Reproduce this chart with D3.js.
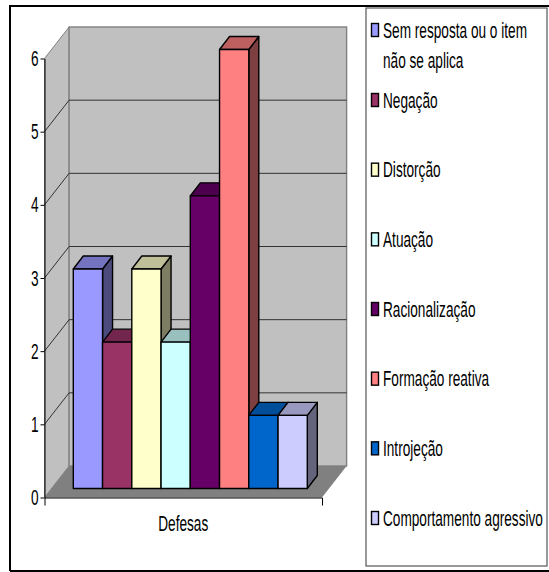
<!DOCTYPE html>
<html>
<head>
<meta charset="utf-8">
<script src="https://cdn.jsdelivr.net/npm/d3@7"></script>
<style>
  html, body { margin: 0; padding: 0; background: #fff; }
  svg { display: block; }
  text { font-family: "Liberation Sans", Arial, sans-serif; fill: #000; }
</style>
</head>
<body>
<svg id="chart" width="549" height="572"></svg>
<script>
// Defence mechanisms: one category, eight series, drawn as 3D columns.
const categories = ["Defesas"];
const seriesNames = [
  "Sem resposta ou o item não se aplica",
  "Negação",
  "Distorção",
  "Atuação",
  "Racionalização",
  "Formação reativa",
  "Introjeção",
  "Comportamento agressivo"
];
const seriesValues = [3, 2, 3, 2, 4, 6, 1, 1];
const seriesColors = ["#9999FF", "#993366", "#FFFFCC", "#CCFFFF", "#660066", "#FF8080", "#0066CC", "#CCCCFF"];
const yTicks = [0, 1, 2, 3, 4, 5, 6];
const legendLines = [
  ["Sem resposta ou o item", "não se aplica"],
  ["Negação"], ["Distorção"], ["Atuação"], ["Racionalização"],
  ["Formação reativa"], ["Introjeção"], ["Comportamento agressivo"]
];

const svg = d3.select("#chart");
const squeeze = 0.62;          // labels are set in a narrowed sans
const fontSize = 22;

// Box layout
const plot = { left: 44.5, right: 322, top: 58.5, bottom: 497.5 };
const wall = { dx: 24.6, dy: -31.5 };    // depth of the chart box
const barDepth = { dx: 10, dy: -13 };    // depth of each column
const barShift = { dx: 0, dy: -9 };      // columns sit inset on the floor

const y = d3.scaleLinear().domain([0, 6]).range([plot.bottom, plot.top]);
const xCat = d3.scaleBand().domain(categories).range([plot.left, plot.right]);
const xBar = d3.scaleBand().domain(seriesNames).range([73.3, 307.3]);

const poly = pts => pts.map(p => p.join(",")).join(" ");

// Outer frame
svg.append("path").attr("d", "M10,571 V6 H549").attr("fill", "none").attr("stroke", "#000").attr("stroke-width", 2);
svg.append("path").attr("d", "M10,571 H549").attr("fill", "none").attr("stroke", "#000").attr("stroke-width", 2);

// Side wall, back wall and floor
const yTop = y(6);
svg.append("polygon")
  .attr("points", poly([[plot.left, yTop], [plot.left + wall.dx, yTop + wall.dy], [plot.left + wall.dx, plot.bottom + wall.dy], [plot.left, plot.bottom]]))
  .attr("fill", "#C0C0C0").attr("stroke", "#808080").attr("stroke-width", 1);
svg.append("rect")
  .attr("x", plot.left + wall.dx).attr("y", yTop + wall.dy)
  .attr("width", plot.right - plot.left).attr("height", plot.bottom - yTop)
  .attr("fill", "#C0C0C0").attr("stroke", "#808080").attr("stroke-width", 1.4);

// Gridlines across the side wall and the back wall
svg.append("g").selectAll("polyline")
  .data(yTicks.filter(t => t > 0 && t < 6))
  .join("polyline")
  .attr("points", t => poly([[plot.left, y(t)], [plot.left + wall.dx, y(t) + wall.dy], [plot.right + wall.dx, y(t) + wall.dy]]))
  .attr("fill", "none").attr("stroke", "#222").attr("stroke-width", 0.9);

svg.append("polygon")
  .attr("points", poly([[plot.left, plot.bottom], [plot.right, plot.bottom], [plot.right + wall.dx, plot.bottom + wall.dy], [plot.left + wall.dx, plot.bottom + wall.dy]]))
  .attr("fill", "#808080");

// Columns, painted left to right so each one hides the side of its neighbour
const bars = svg.append("g").selectAll("g")
  .data(seriesNames.map((name, i) => ({ name, value: seriesValues[i], color: seriesColors[i] })))
  .join("g")
  .attr("stroke", "#000").attr("stroke-width", 1.4).attr("stroke-linejoin", "round");

const corners = d => {
  const x0 = xBar(d.name), x1 = x0 + xBar.bandwidth();
  const yT = y(d.value) + barShift.dy, yB = y(0) + barShift.dy;
  return { x0, x1, yT, yB };
};
bars.append("polygon")
  .attr("points", d => { const c = corners(d); return poly([[c.x1, c.yT], [c.x1 + barDepth.dx, c.yT + barDepth.dy], [c.x1 + barDepth.dx, c.yB + barDepth.dy], [c.x1, c.yB]]); })
  .attr("fill", d => d3.rgb(d.color).darker(2).formatHex());
bars.append("polygon")
  .attr("points", d => { const c = corners(d); return poly([[c.x0, c.yT], [c.x0 + barDepth.dx, c.yT + barDepth.dy], [c.x1 + barDepth.dx, c.yT + barDepth.dy], [c.x1, c.yT]]); })
  .attr("fill", d => { const c = d3.rgb(d.color); return d3.rgb(c.r * 0.75, c.g * 0.75, c.b * 0.75).formatHex(); });
bars.append("rect")
  .attr("x", d => corners(d).x0)
  .attr("y", d => corners(d).yT)
  .attr("width", xBar.bandwidth())
  .attr("height", d => corners(d).yB - corners(d).yT)
  .attr("fill", d => d.color);

// Axes
const yAxis = svg.append("g")
  .attr("transform", `translate(${plot.left},0)`)
  .call(d3.axisLeft(y).tickValues(yTicks).tickFormat(d3.format("d")).tickSize(4).tickSizeOuter(0));
yAxis.selectAll("text")
  .attr("x", -6 / squeeze)
  .attr("transform", `scale(${squeeze},1)`)
  .style("font-size", fontSize + "px")
  .style("font-family", '"Liberation Sans", Arial, sans-serif');

const xAxis = svg.append("g")
  .attr("transform", `translate(0,${plot.bottom})`)
  .call(d3.axisBottom(xCat).tickSizeInner(0).tickSizeOuter(8).tickPadding(18));
xAxis.selectAll("text")
  .attr("transform", `scale(${squeeze},1)`)
  .style("font-size", fontSize + "px")
  .style("font-family", '"Liberation Sans", Arial, sans-serif');
xAxis.selectAll(".tick text").attr("x", 0);

// Legend
svg.append("rect")
  .attr("x", 366).attr("y", 8).attr("width", 181).attr("height", 558)
  .attr("fill", "#fff").attr("stroke", "#555").attr("stroke-width", 1.2);

const legendY = d3.scalePoint().domain(d3.range(1, 8)).range([100, 518]);
const rowCenter = i => i === 0 ? 30 : legendY(i);
const legend = svg.append("g").selectAll("g")
  .data(seriesNames)
  .join("g")
  .attr("transform", (d, i) => `translate(371,${rowCenter(i)})`);
legend.append("rect")
  .attr("x", 0.5).attr("y", -6.5).attr("width", 7).attr("height", 13)
  .attr("fill", (d, i) => seriesColors[i])
  .attr("stroke", "#000").attr("stroke-width", 1.4);
legend.each(function (d, i) {
  d3.select(this).selectAll("text")
    .data(legendLines[i])
    .join("text")
    .attr("transform", (t, j) => `translate(12,${j * 30}) scale(${squeeze},1)`)
    .attr("dy", "0.35em")
    .style("font-size", fontSize + "px")
    .text(t => t);
});
</script>
</body>
</html>
